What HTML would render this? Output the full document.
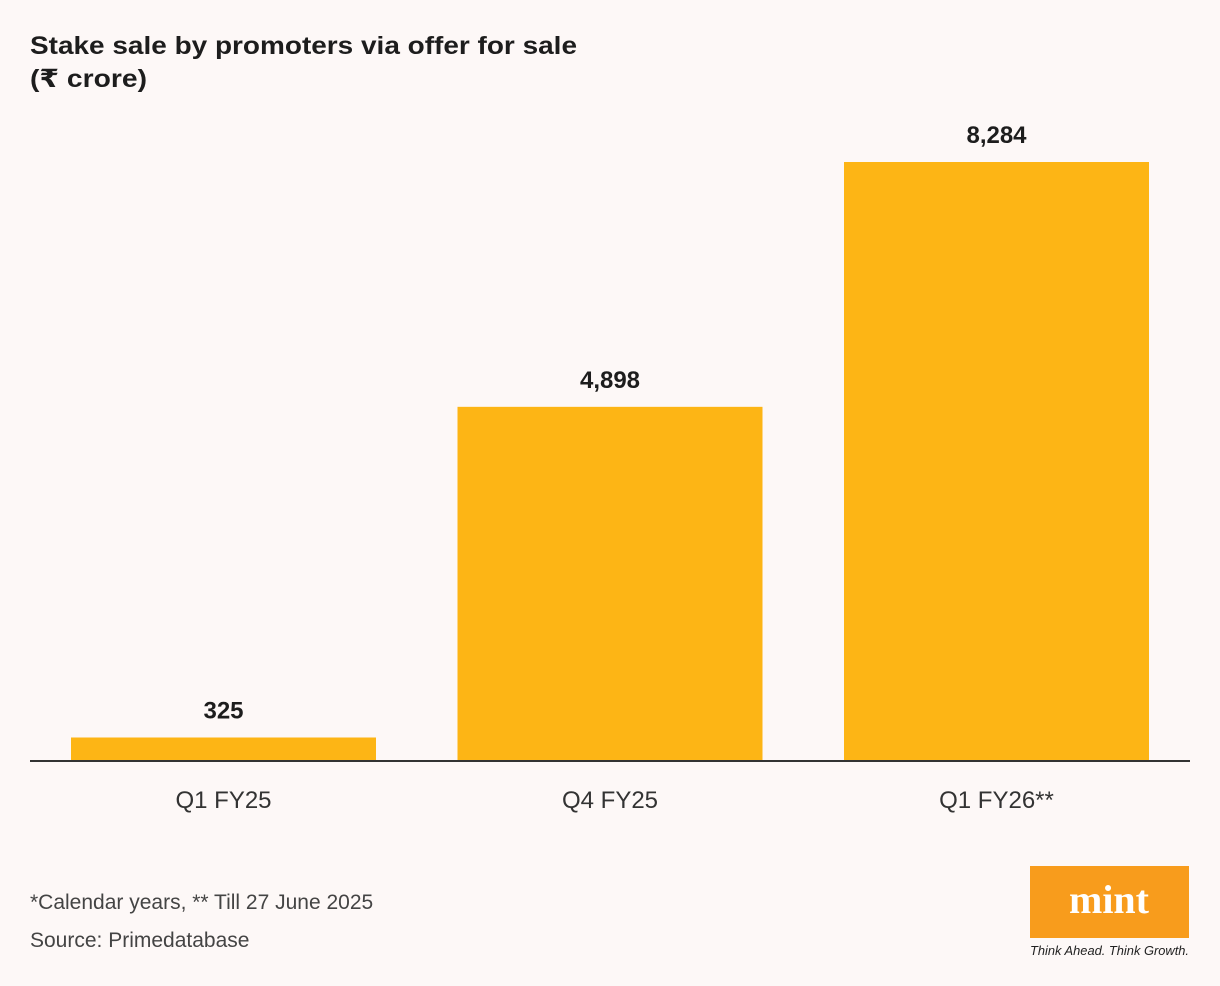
<!DOCTYPE html>
<html><head><meta charset="utf-8"><style>
html,body{margin:0;padding:0;background:#fdf8f7;}
svg{display:block;font-family:"Liberation Sans","DejaVu Sans",sans-serif;}
</style></head><body>
<svg id="chart" width="1220" height="986" viewBox="0 0 1220 986">
<rect width="1220" height="986" fill="#fdf8f7"/>
<text x="30" y="54" font-size="25" font-weight="bold" fill="#1d1d1d" textLength="547" lengthAdjust="spacingAndGlyphs">Stake sale by promoters via offer for sale</text>
<text x="30" y="87" font-size="25" font-weight="bold" fill="#1d1d1d" textLength="117" lengthAdjust="spacingAndGlyphs">(₹ crore)</text>
<g id="bars"></g>
<line x1="30" y1="761" x2="1190" y2="761" stroke="#333" stroke-width="2"/>
<text x="30" y="909" font-size="21" fill="#444">*Calendar years, ** Till 27 June 2025</text>
<text x="30" y="947" font-size="21" fill="#444">Source: Primedatabase</text>
<g>
<rect x="1030" y="866" width="159" height="72" fill="#f89c1c"/>
<text x="1109" y="913" font-size="40" font-weight="bold" fill="#fff" text-anchor="middle" font-family="Liberation Serif, serif">mint</text>
<text x="1030" y="955" font-size="12.5" font-style="italic" fill="#222" textLength="159" lengthAdjust="spacingAndGlyphs">Think Ahead. Think Growth.</text>
</g>
</svg>
<script>
const categories = ["Q1 FY25","Q4 FY25","Q1 FY26**"];
const values = [325, 4898, 8284];
const valueLabels = ["325","4,898","8,284"];
const baseY = 761, plotTop = 162, maxVal = 8284;
function yScale(v){ return baseY - (v/maxVal)*(baseY-plotTop); }
function xBand(i){ return 71 + i*386.5; }
const barW = 305;
const g = document.getElementById('bars');
const NS = "http://www.w3.org/2000/svg";
categories.forEach((c,i)=>{
  const x = xBand(i), y = yScale(values[i]);
  const r = document.createElementNS(NS,'rect');
  r.setAttribute('x',x); r.setAttribute('y',y); r.setAttribute('width',barW); r.setAttribute('height',baseY-y);
  r.setAttribute('fill','#fdb515');
  
  
  g.appendChild(r);
  const t = document.createElementNS(NS,'text');
  t.setAttribute('x',x+barW/2); t.setAttribute('y',y-19); t.setAttribute('text-anchor','middle');
  t.setAttribute('font-size','24'); t.setAttribute('font-weight','bold'); t.setAttribute('fill','#1d1d1d');
  t.textContent = valueLabels[i];
  
  
  g.appendChild(t);
  const l = document.createElementNS(NS,'text');
  l.setAttribute('x',x+barW/2); l.setAttribute('y',808); l.setAttribute('text-anchor','middle');
  l.setAttribute('font-size','24'); l.setAttribute('fill','#333');
  l.textContent = c;
  
  
  g.appendChild(l);
});
</script>
</body></html>
